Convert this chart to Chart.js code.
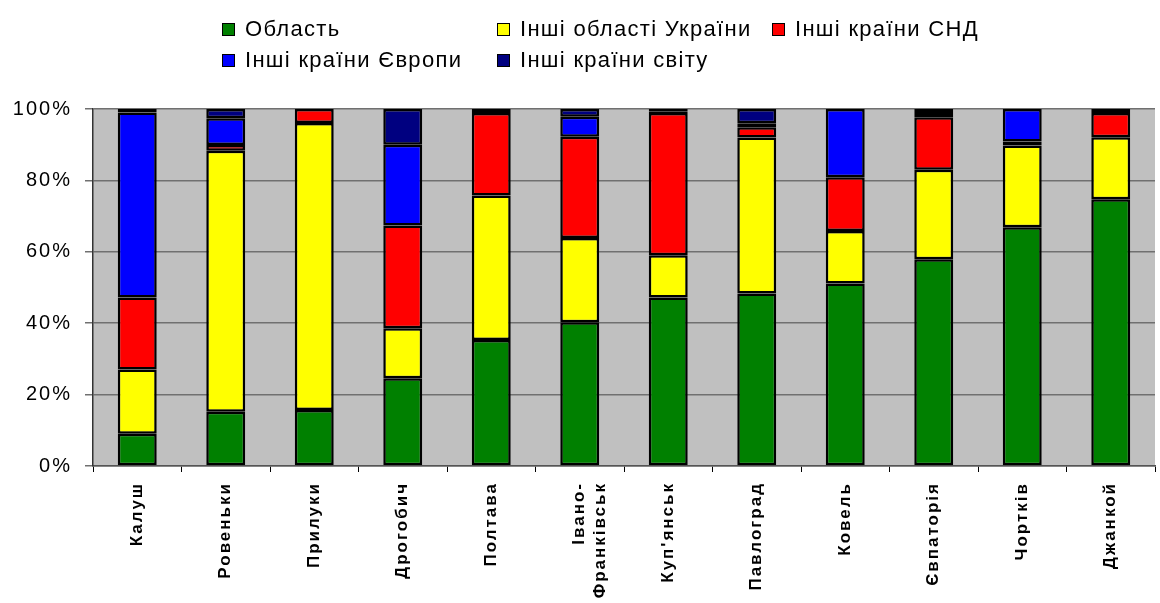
<!DOCTYPE html>
<html>
<head>
<meta charset="utf-8">
<script src="https://cdn.jsdelivr.net/npm/chart.js@4"></script>
<style>
  body { margin: 0; background: #fff; }
  #wrap { position: relative; width: 1160px; height: 603px; }
  #legend { position: absolute; left: 222px; top: 16px; font-family: "Liberation Sans", Arial, sans-serif; font-size: 22px; letter-spacing: 1.3px; color: #000; }
  .item { position: absolute; white-space: nowrap; }
  .box { display: inline-block; width: 11px; height: 11px; border: 1.5px solid #000; margin-right: 10px; vertical-align: 0px; }
</style>
</head>
<body>
<div id="wrap">
  <canvas id="chart" width="1160" height="603"></canvas>
  <div id="legend"></div>
</div>
<script>
// Categories and series (shares, %)
const cities = ["Калуш", "Ровеньки", "Прилуки", "Дрогобич", "Полтава", ["Івано-", "Франківськ"], "Куп'янськ", "Павлоград", "Ковель", "Євпаторія", "Чортків", "Джанкой"];
const oblast   = [9, 15.2, 15.7, 24.6, 35.3, 40.3, 47.2, 48.3, 51.1, 57.9, 66.9, 74.7];
const otherUa  = [18, 73.1, 80.4, 14, 40.5, 23.6, 11.8, 43.7, 14.7, 25.1, 22.9, 17.4];
const cis      = [20.2, 1.6, 3.9, 28.8, 23.1, 28.3, 39.9, 2.9, 15.1, 14.7, 1.1, 6.8];
const europe   = [51.8, 7.5, 0, 22.6, 0, 5.6, 0.3, 1.1, 19.1, 0.9, 9.1, 1.1];
const world    = [1, 2.6, 0, 10, 1.1, 2.2, 0.8, 4, 0, 1.4, 0, 0];
const yTicks = [0, 20, 40, 60, 80, 100];

const series = [
  { label: "Область", data: oblast, color: "#008000" },
  { label: "Інші області України", data: otherUa, color: "#FFFF00" },
  { label: "Інші країни СНД", data: cis, color: "#FF0000" },
  { label: "Інші країни Європи", data: europe, color: "#0000FF" },
  { label: "Інші країни світу", data: world, color: "#000080" }
];

// Legend laid out like the original (two rows, fixed columns)
const legendPos = [[0, 0], [275, 0], [550, 0], [0, 31], [275, 31]];
const legend = document.getElementById("legend");
series.forEach(function(s, i) {
  const el = document.createElement("div");
  el.className = "item";
  el.style.left = legendPos[i][0] + "px";
  el.style.top = legendPos[i][1] + "px";
  el.innerHTML = '<span class="box" style="background:' + s.color + '"></span>' + s.label;
  legend.appendChild(el);
});

// Grey plot background + wider letter spacing like the original
const plotBg = {
  id: "plotBg",
  beforeUpdate(chart) { chart.ctx.letterSpacing = "2px"; },
  beforeDraw(chart) {
    const a = chart.chartArea;
    chart.ctx.letterSpacing = "2px";
    chart.ctx.save();
    chart.ctx.fillStyle = "#C0C0C0";
    chart.ctx.fillRect(a.left, a.top, a.right - a.left, a.bottom - a.top);
    chart.ctx.restore();
  }
};

new Chart(document.getElementById("chart"), {
  type: "bar",
  data: {
    labels: cities,
    datasets: series.map(function(s) {
      return {
        label: s.label,
        data: s.data,
        backgroundColor: s.color,
        borderColor: "#000",
        borderWidth: 2.5,
        borderSkipped: false,
        categoryPercentage: 1,
        barPercentage: 0.44
      };
    })
  },
  options: {
    responsive: false,
    animation: false,
    layout: { padding: { top: 109, right: 5, left: 0, bottom: 0 } },
    plugins: { legend: { display: false }, tooltip: { enabled: false } },
    scales: {
      x: {
        stacked: true,
        afterFit(scale) { scale.height = 137; },
        grid: { offset: true, drawOnChartArea: false, color: "#000", tickLength: 6 },
        border: { color: "#555", width: 1.5 },
        ticks: {
          minRotation: 90, maxRotation: 90, autoSkip: false,
          color: "#000",
          font: { family: "Liberation Sans", size: 17, weight: "bold" },
          padding: 10
        }
      },
      y: {
        stacked: true,
        min: 0, max: 100,
        afterFit(scale) { scale.width = 93; },
        afterBuildTicks(scale) { scale.ticks = yTicks.map(function(v) { return { value: v }; }); },
        grid: { color: "#707070", lineWidth: 1.5, tickLength: 8 },
        border: { color: "#333", width: 1.5 },
        ticks: {
          color: "#000",
          font: { family: "Liberation Sans", size: 20 },
          padding: 13,
          callback: function(v) { return v + "%"; }
        }
      }
    }
  },
  plugins: [plotBg]
});
</script>
</body>
</html>
